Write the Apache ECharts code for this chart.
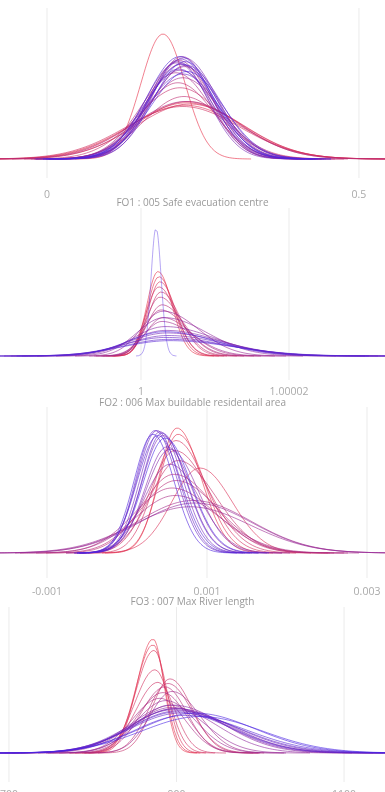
<!DOCTYPE html>
<html><head><meta charset="utf-8">
<script src="https://cdn.jsdelivr.net/npm/echarts@6/dist/echarts.min.js"></script>
<style>html,body{margin:0;padding:0;background:#fff}#c{width:385px;height:792px}</style>
</head><body><div id="c"></div>
<script>
// ---------- DATA ----------
const titles = ['FO1 : 005 Safe evacuation centre', 'FO2 : 006 Max buildable residentail area', 'FO3 : 007 Max River length', ''];

const ticks1 = [0, 0.5];              const tickLabels1 = ['0', '0.5'];
const ticks2 = [1, 1.00002];          const tickLabels2 = ['1', '1.00002'];
const ticks3 = [-0.001, 0.001, 0.003]; const tickLabels3 = ['-0.001', '0.001', '0.003'];
const ticks4 = [700, 900, 1100];      const tickLabels4 = ['700', '900', '1100'];

// Panel 1: curve mode, left/right spread, relative peak density
const mode1 = [0.1859,0.2244,0.2212,0.2292,0.2179,0.2260,0.2131,0.2196,0.2099,0.2228,0.2147,0.2067,0.2179,0.2115,0.2212,0.2163,0.2083,0.2131,0.2196,0.2099,0.2228,0.2147,0.2179,0.2115,0.2212,0.2131,0.2244,0.2163];
const sdLeft1 = [0.0353,0.0881,0.0897,0.0865,0.0913,0.0833,0.0673,0.0641,0.0577,0.0849,0.0529,0.0561,0.0609,0.0497,0.0545,0.0481,0.0513,0.0577,0.0529,0.0481,0.0561,0.0497,0.0593,0.0545,0.0513,0.0529,0.0577,0.0545];
const sdRight1 = [0.0353,0.0881,0.0897,0.0865,0.0913,0.0833,0.0673,0.0641,0.0577,0.0849,0.0529,0.0561,0.0609,0.0497,0.0545,0.0481,0.0513,0.0577,0.0529,0.0481,0.0561,0.0497,0.0593,0.0545,0.0513,0.0529,0.0577,0.0545];
const peak1 = [1.00,0.45,0.43,0.44,0.42,0.46,0.57,0.50,0.61,0.46,0.76,0.69,0.65,0.79,0.74,0.82,0.77,0.71,0.81,0.78,0.75,0.80,0.68,0.72,0.78,0.82,0.70,0.76];

// Panel 2
const mode2 = [1.00000230,1.00000243,1.00000257,1.00000243,1.00000270,1.00000257,1.00000284,1.00000270,1.00000297,1.00000284,1.00000297,1.00000311,1.00000324,1.00000338,1.00000351,1.00000365,1.00000338,1.00000378,1.00000392,1.00000324,1.00000203];
const sdLeft2 = [1.50e-6,1.57e-6,1.64e-6,1.78e-6,1.78e-6,1.92e-6,2.05e-6,2.19e-6,2.32e-6,2.46e-6,2.97e-6,3.65e-6,4.32e-6,4.86e-6,5.27e-6,5.54e-6,5.81e-6,6.08e-6,6.35e-6,5.00e-6,6.76e-7];
const sdRight2 = [1.89e-6,2.03e-6,2.16e-6,2.30e-6,2.57e-6,2.84e-6,3.11e-6,3.38e-6,3.78e-6,4.19e-6,4.73e-6,5.81e-6,6.76e-6,7.16e-6,7.57e-6,7.70e-6,7.97e-6,8.24e-6,8.51e-6,6.89e-6,7.0e-7];
const peak2 = [0.66,0.62,0.58,0.54,0.50,0.46,0.40,0.36,0.30,0.27,0.35,0.30,0.23,0.20,0.18,0.16,0.145,0.13,0.12,0.19,1.00];

// Panel 3
const mode3 = [0.000625,0.0006375,0.0009125,0.0006125,0.0006,0.0006375,0.0005875,0.0006125,0.0005625,0.0006,0.000825,0.0007875,0.00085,0.0005375,0.0005375,0.0005,0.00045,0.0004125,0.000375,0.00035,0.0004375,0.0003875,0.000325,0.000475];
const sdLeft3 = [0.000225,0.0002375,0.00035,0.000275,0.0003125,0.00035,0.0004,0.0004375,0.000475,0.0005,0.0006875,0.0007125,0.0007,0.000325,0.0003,0.000275,0.0002625,0.00025,0.00025,0.0002375,0.00025,0.0002625,0.0002375,0.000275];
const sdRight3 = [0.0003,0.000325,0.0004,0.000375,0.000425,0.000475,0.0005,0.000525,0.00055,0.000575,0.000725,0.00075,0.0007125,0.000375,0.00035,0.0003125,0.0003,0.0002875,0.000275,0.000275,0.0003,0.0002875,0.0002625,0.000325];
const peak3 = [1.00,0.95,0.68,0.90,0.82,0.74,0.63,0.58,0.52,0.46,0.42,0.37,0.40,0.71,0.83,0.85,0.94,0.97,0.98,0.98,0.96,0.94,0.95,0.92];

// Panel 4
const mode4 = [872.0,872.0,873.1,874.3,877.9,892.2,889.8,886.3,883.9,880.3,894.6,887.5,892.2,894.6,895.8,898.2,899.4,897.0,901.8,904.2,900.6,910.1,922.1,928.1];
const sdLeft4 = [19.1,20.3,21.5,23.9,26.3,21.5,23.9,28.7,31.0,33.4,26.3,35.8,39.4,47.8,50.1,52.5,53.7,54.9,57.3,59.7,56.1,59.7,65.7,69.2];
const sdRight4 = [13.1,14.3,15.5,17.9,20.3,26.3,28.7,26.3,28.7,29.9,33.4,35.8,41.8,53.7,59.7,62.1,65.7,66.9,69.2,71.6,64.5,74.0,71.6,74.0];
const peak4 = [1.00,0.95,0.90,0.73,0.62,0.65,0.61,0.58,0.53,0.48,0.54,0.46,0.42,0.40,0.42,0.39,0.39,0.38,0.37,0.35,0.36,0.33,0.35,0.32];

// ---------- LAYOUT ----------
const panels = [
  {mode: mode1, sdL: sdLeft1, sdR: sdRight1, peak: peak1, ticks: ticks1, labels: tickLabels1, xMin: -0.0753, xMax: 0.5417,
   top: 8, bottom: 178, base: 159, peakY: 34, labelY: 196, titleY: 205},
  {mode: mode2, sdL: sdLeft2, sdR: sdRight2, peak: peak2, ticks: ticks2, labels: tickLabels2, xMin: 0.99998095, xMax: 1.00003297,
   top: 208, bottom: 380, base: 356, peakY: 228, labelY: 393, titleY: 405},
  {mode: mode3, sdL: sdLeft3, sdR: sdRight3, peak: peak3, ticks: ticks3, labels: tickLabels3, xMin: -0.0015875, xMax: 0.003225,
   top: 407, bottom: 578, base: 553, peakY: 428, labelY: 593, titleY: 604},
  {mode: mode4, sdL: sdLeft4, sdR: sdRight4, peak: peak4, ticks: ticks4, labels: tickLabels4, xMin: 689.3, xMax: 1148.9,
   top: 607, bottom: 782, base: 753, peakY: 639, labelY: 796, titleY: 808}
];

const RED = [232, 45, 70], BLUE = [72, 35, 228];
function colorAt(t) {
  const c = RED.map((r, k) => Math.round(r + (BLUE[k] - r) * t));
  return 'rgb(' + c.join(',') + ')';
}
function curve(m, sL, sR, p) {
  const pts = [], N = 70;
  for (let i = N; i >= 1; i--) { const z = 4 * i / N; pts.push([m - z * sL, p * Math.exp(-0.5 * z * z)]); }
  pts.push([m, p]);
  for (let i = 1; i <= N; i++) { const z = 4 * i / N; pts.push([m + z * sR, p * Math.exp(-0.5 * z * z)]); }
  return pts;
}

const grid = [], xAxis = [], yAxis = [], series = [], title = [];
panels.forEach((P, pi) => {
  grid.push({left: 0, right: 0, top: P.top, height: P.bottom - P.top, containLabel: false, outerBoundsMode: 'none'});
  const maxPeak = Math.max(...P.peak);
  const pxPerUnit = (P.base - P.peakY) / maxPeak;
  const yMin = -(P.bottom - P.base) / pxPerUnit, yMax = (P.base - P.top) / pxPerUnit;
  yAxis.push({type: 'value', gridIndex: pi, show: false, min: yMin, max: yMax});
  xAxis.push({type: 'value', gridIndex: pi, min: P.xMin, max: P.xMax,
    axisLine: {show: false}, axisTick: {show: false}, splitLine: {show: false},
    axisLabel: {customValues: P.ticks, color: '#aaa', fontSize: 10.5, fontFamily: 'Open Sans',
      margin: P.labelY - P.bottom - 6,
      formatter: v => { let best = 0; P.ticks.forEach((t, k) => { if (Math.abs(t - v) < Math.abs(P.ticks[best] - v)) best = k; }); return P.labels[best]; }}});
  if (titles[pi]) title.push({text: titles[pi], left: 'center', top: P.titleY - 7, padding: 0,
    textStyle: {fontSize: 10, color: '#999', fontWeight: 'normal', fontFamily: 'Open Sans'}});
  // vertical grid lines at the tick values
  P.ticks.forEach(v => series.push({type: 'line', xAxisIndex: pi, yAxisIndex: pi, data: [[v, yMin], [v, yMax]],
    showSymbol: false, symbol: 'none', silent: true, animation: false, z: 1,
    lineStyle: {width: 1, color: '#ebebeb'}}));
  const n = P.mode.length;
  for (let i = 0; i < n; i++) {
    const narrow = P.peak[i] === maxPeak && i === n - 1;
    series.push({type: 'line', xAxisIndex: pi, yAxisIndex: pi, data: curve(P.mode[i], P.sdL[i], P.sdR[i], P.peak[i]),
      showSymbol: false, symbol: 'none', silent: true, animation: false, clip: true, z: 2,
      lineStyle: {width: 1, color: colorAt(n > 1 ? i / (n - 1) : 0), opacity: narrow ? 0.4 : 0.6}});
  }
});

const chart = echarts.init(document.getElementById('c'), null, {renderer: 'canvas'});
chart.setOption({animation: false, backgroundColor: '#fff', title, grid, xAxis, yAxis, series});
</script>
</body></html>
